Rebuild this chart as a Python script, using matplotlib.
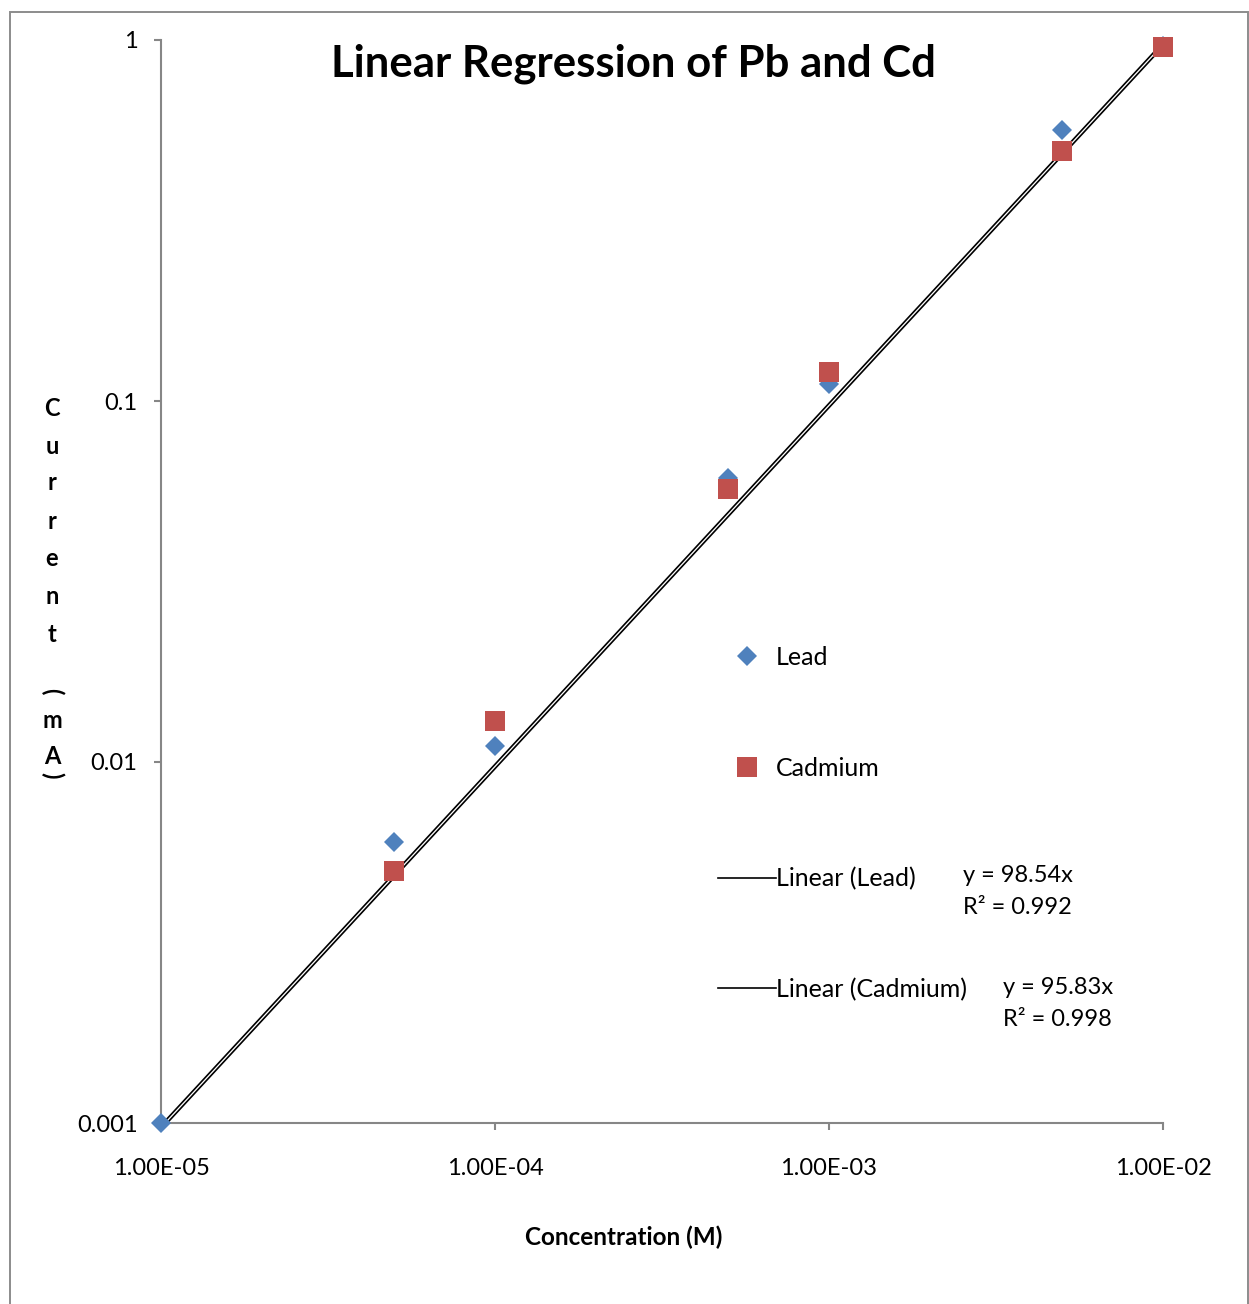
import matplotlib
matplotlib.use("Agg")
import matplotlib.pyplot as plt
from matplotlib.lines import Line2D
from matplotlib.patches import Rectangle
from matplotlib.ticker import FixedLocator, FixedFormatter, NullLocator
import numpy as np

# Measured peak currents (mA) against concentration (M)
conc_lead = [1e-5, 5e-5, 1e-4, 5e-4, 1e-3, 5e-3, 1e-2]
current_lead = [0.001, 0.006, 0.0111, 0.0612, 0.1115, 0.564, 0.96]

conc_cd = [5e-5, 1e-4, 5e-4, 1e-3, 5e-3, 1e-2]
current_cd = [0.005, 0.013, 0.057, 0.120, 0.493, 0.956]

# Linear fits through the origin
slope_lead, r2_lead = 98.54, 0.992
slope_cd, r2_cd = 95.83, 0.998
fit_range = [1e-5, 1e-2]

x_ticks = [1e-5, 1e-4, 1e-3, 1e-2]
x_tick_labels = ["1.00E-05", "1.00E-04", "1.00E-03", "1.00E-02"]
y_ticks = [0.001, 0.01, 0.1, 1]
y_tick_labels = ["0.001", "0.01", "0.1", "1"]

BLUE = "#4F81BD"
RED = "#C0504D"
AXIS_GRAY = "#868686"

plt.rcParams["font.family"] = ["Lato", "DejaVu Sans"]

W, H = 1249, 1304
fig = plt.figure(figsize=(W / 100, H / 100), dpi=100)


def fx(px):
    return px / W


def fy(py):
    return 1 - py / H


# outer chart border
fig.patches.append(Rectangle((fx(10), fy(1310)), fx(1238), fy(12) - fy(1310),
                             transform=fig.transFigure, fill=False,
                             edgecolor="#8C8C8C", linewidth=1.4))

ax = fig.add_axes([fx(161), fy(1123), fx(1163) - fx(161), fy(40) - fy(1123)])
ax.set_xscale("log")
ax.set_yscale("log")
ax.set_xlim(1e-5, 1e-2)
ax.set_ylim(1e-3, 1)

fx_arr = np.array(fit_range)
ax.plot(fx_arr, slope_lead * fx_arr, color="black", linewidth=1.2, zorder=2)
ax.plot(fx_arr, slope_cd * fx_arr, color="black", linewidth=1.2, zorder=2)

ax.plot(conc_lead, current_lead, linestyle="none", marker="D", markersize=10.5,
        color=BLUE, markeredgewidth=0, zorder=3, clip_on=False)
ax.plot(conc_cd, current_cd, linestyle="none", marker="s", markersize=14,
        color=RED, markeredgewidth=0, zorder=4, clip_on=False)

for side in ("top", "right"):
    ax.spines[side].set_visible(False)
for side in ("left", "bottom"):
    ax.spines[side].set_color(AXIS_GRAY)
    ax.spines[side].set_linewidth(1.5)

ax.xaxis.set_major_locator(FixedLocator(x_ticks))
ax.xaxis.set_major_formatter(FixedFormatter(x_tick_labels))
ax.yaxis.set_major_locator(FixedLocator(y_ticks))
ax.yaxis.set_major_formatter(FixedFormatter(y_tick_labels))
ax.xaxis.set_minor_locator(NullLocator())
ax.yaxis.set_minor_locator(NullLocator())
ax.tick_params(axis="both", which="major", direction="out", length=5,
               width=1.5, color=AXIS_GRAY, labelsize=17, labelcolor="black")
ax.tick_params(axis="x", pad=20)
ax.tick_params(axis="y", pad=12)

fig.text(fx(633), fy(64), "Linear Regression of Pb and Cd", ha="center",
         va="center", fontsize=31.5, fontweight="bold")
fig.text(fx(624), fy(1237), "Concentration (M)", ha="center", va="center",
         fontsize=17.5, fontweight="bold")

# stacked y-axis title
stack = [("C", 408, 0), ("u", 446, 0), ("r", 483, 0), ("r", 521, 0),
         ("e", 558, 0), ("n", 596, 0), ("t", 634, 0), ("(", 691, -90),
         ("m", 720, 0), ("A", 757, 0), (")", 775, -90)]
for ch, py, rot in stack:
    fig.text(fx(52), fy(py), ch, ha="center", va="center", fontsize=17,
             fontweight="bold", rotation=rot)

handles = [
    Line2D([], [], linestyle="none", marker="D", markersize=10.5, color=BLUE,
           markeredgewidth=0),
    Line2D([], [], linestyle="none", marker="s", markersize=14, color=RED,
           markeredgewidth=0),
    Line2D([], [], color="black", linewidth=1.2),
    Line2D([], [], color="black", linewidth=1.2),
]
labels = ["Lead", "Cadmium", "Linear (Lead)", "Linear (Cadmium)"]
leg = fig.legend(handles, labels, loc="upper left",
                 bbox_to_anchor=(fx(718), fy(646)), frameon=False,
                 fontsize=18, labelspacing=3.5, handlelength=2.3,
                 handletextpad=0.02, borderaxespad=0, borderpad=0)

fig.text(fx(963), fy(875), f"y = {slope_lead}x", ha="left", va="center",
         fontsize=17)
fig.text(fx(963), fy(908), f"R² = {r2_lead}", ha="left", va="center",
         fontsize=17)
fig.text(fx(1003), fy(987), f"y = {slope_cd}x", ha="left", va="center",
         fontsize=17)
fig.text(fx(1003), fy(1020), f"R² = {r2_cd}", ha="left", va="center",
         fontsize=17)

fig.savefig("out.png", dpi=100)
